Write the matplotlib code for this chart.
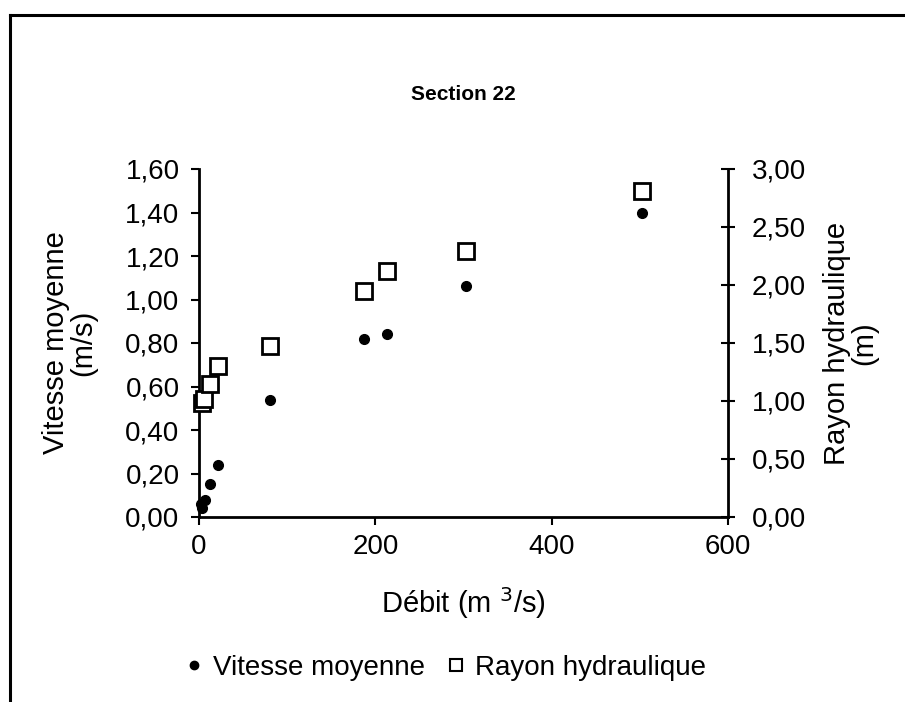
import matplotlib
matplotlib.use("Agg")
import matplotlib.pyplot as plt
from matplotlib.ticker import FuncFormatter
from matplotlib.lines import Line2D

plt.rcParams['font.family'] = ['Liberation Sans', 'DejaVu Sans']

# Data (débit in m3/s)
debit_v = [2, 3, 7, 12.5, 21, 80.5, 187, 213, 303, 502]
vitesse = [0.06, 0.04, 0.08, 0.15, 0.24, 0.54, 0.82, 0.84, 1.06, 1.40]

debit_r = [3, 6, 12.5, 22, 80, 187, 213, 303, 502]
rayon = [0.98, 1.02, 1.15, 1.30, 1.47, 1.95, 2.12, 2.29, 2.81]

x_ticks = [0, 200, 400, 600]
left_ticks = [0, 0.2, 0.4, 0.6, 0.8, 1.0, 1.2, 1.4, 1.6]
right_ticks = [0, 0.5, 1.0, 1.5, 2.0, 2.5, 3.0]

comma = FuncFormatter(lambda v, p: f"{v:.2f}".replace(".", ","))
FS = 20

fig = plt.figure(figsize=(9.05, 7.02), dpi=100)

# outer frame (top and left edges visible in the reference)
fig.add_artist(Line2D([10 / 905, 1.0], [1 - 15 / 702, 1 - 15 / 702], color="black", lw=2.2, transform=fig.transFigure))
fig.add_artist(Line2D([10 / 905, 10 / 905], [0.0, 1 - 15 / 702], color="black", lw=2.2, transform=fig.transFigure))

ax = fig.add_axes([199 / 905, 1 - 517 / 702, (728 - 199) / 905, (517 - 169) / 702])
ax2 = ax.twinx()

ax.plot(debit_v, vitesse, "o", color="black", markersize=7, label="Vitesse moyenne", clip_on=False)
ax2.plot(debit_r, rayon, "s", markerfacecolor="white", markeredgecolor="black",
         markeredgewidth=2, markersize=11, label="Rayon hydraulique", clip_on=False)

ax.set_xlim(0, 600)
ax.set_ylim(0, 1.6)
ax2.set_ylim(0, 3.0)
ax.set_xticks(x_ticks)
ax.set_yticks(left_ticks)
ax2.set_yticks(right_ticks)
ax.yaxis.set_major_formatter(comma)
ax2.yaxis.set_major_formatter(comma)

for a in (ax, ax2):
    a.spines["top"].set_visible(False)
    for s in a.spines.values():
        s.set_linewidth(2)
ax.spines["right"].set_visible(False)
ax2.spines["left"].set_visible(False)
ax2.spines["bottom"].set_visible(False)

ax.tick_params(axis="x", direction="out", length=6, width=1.5, labelsize=FS, pad=6)
ax.tick_params(axis="y", direction="out", length=6, width=1.5, labelsize=FS, pad=8)
ax2.tick_params(axis="y", direction="inout", length=10, width=1.5, labelsize=FS, pad=12)

ax.set_xlabel("Débit (m $^3$/s)", fontsize=21, labelpad=18)
ax.set_ylabel("Vitesse moyenne\n(m/s)", fontsize=21, labelpad=20, linespacing=1.0)
ax2.set_ylabel("Rayon hydraulique\n(m)", fontsize=21, labelpad=12, linespacing=1.0)

fig.text(463 / 905, 1 - 95 / 702, "Section 22", ha="center", va="center",
         fontsize=15, fontweight="bold")

handles = [
    Line2D([], [], marker="o", ls="none", color="black", markersize=6),
    Line2D([], [], marker="s", ls="none", markerfacecolor="white", markeredgecolor="black",
           markeredgewidth=1.5, markersize=9),
]
fig.legend(handles, ["Vitesse moyenne", "Rayon hydraulique"], loc="center",
           bbox_to_anchor=(443 / 905, 1 - 668 / 702), ncol=2, frameon=False,
           fontsize=FS, handletextpad=0.2, columnspacing=0.6, handlelength=1.0)

fig.savefig("out.png", dpi=100)
